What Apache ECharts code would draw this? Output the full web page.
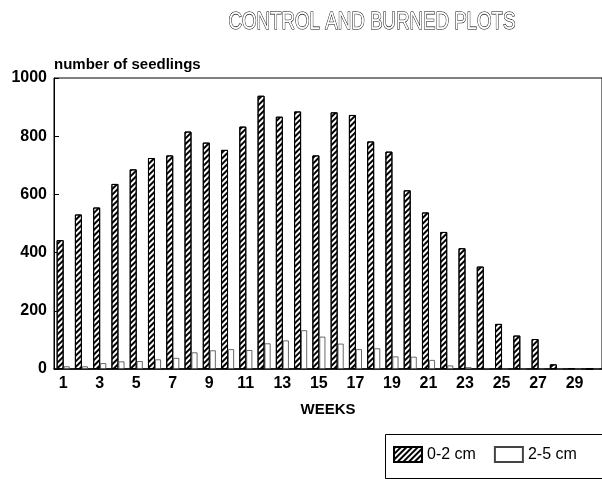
<!DOCTYPE html>
<html>
<head>
<meta charset="utf-8">
<script src="https://cdn.jsdelivr.net/npm/echarts@6/dist/echarts.min.js"></script>
<style>
  html, body { margin: 0; padding: 0; background: #fff; }
  #chart { width: 602px; height: 479px; }
</style>
</head>
<body>
<div id="chart"></div>
<script>
// weeks 1..30
const weeks = Array.from({ length: 30 }, (_, i) => String(i + 1))
const small = [443, 531, 555, 636, 686, 725, 734, 816, 778, 753, 833, 939, 867, 885, 734,
               882, 873, 782, 747, 614, 538, 471, 415, 352, 155, 115, 103, 16, 3, 0]
const large = [9, 9, 20, 26, 27, 33, 38, 57, 64, 68, 65, 88, 98, 133, 111,
               87, 68, 71, 43, 42, 31, 12, 6, 3, 0, 0, 0, 0, 0, 0]
const yTicks = [0, 200, 400, 600, 800, 1000]

const font = 'Liberation Sans'
const chart = echarts.init(document.getElementById('chart'))

const hatch = {
  symbol: 'rect',
  symbolSize: 1,
  color: '#000',
  dashArrayX: [1, 0],
  dashArrayY: [1.8, 1.6],
  rotation: -Math.PI / 4
}

chart.setOption({
  animation: false,
  graphic: [
    {
      // outlined title, squeezed a bit horizontally
      type: 'text',
      left: 228,
      top: 10,
      scaleX: 0.78,
      style: {
        text: 'CONTROL AND BURNED PLOTS',
        font: '24px "Liberation Sans"',
        fill: '#fff',
        stroke: '#000',
        lineWidth: 1.1
      }
    },
    {
      // legend frame
      type: 'rect',
      left: 383,
      top: 432,
      shape: { width: 240, height: 44 },
      style: { fill: null, stroke: '#000', lineWidth: 1 }
    }
  ],
  grid: {
    left: 54,
    top: 78,
    width: 550,
    height: 291,
    show: true,
    borderColor: '#000',
    borderWidth: 1
  },
  legend: {
    left: 393,
    top: 446,
    orient: 'horizontal',
    icon: 'rect',
    itemWidth: 28,
    itemHeight: 15,
    itemGap: 18,
    padding: 0,
    textStyle: { fontFamily: font, fontSize: 16, color: '#000' },
    data: ['0-2 cm', '2-5 cm']
  },
  xAxis: {
    type: 'category',
    data: weeks,
    name: 'WEEKS',
    nameLocation: 'middle',
    nameGap: 33,
    nameTextStyle: { fontFamily: font, fontSize: 15, fontWeight: 'bold', color: '#000' },
    axisLine: { lineStyle: { color: '#000', width: 1.5 } },
    axisTick: { alignWithLabel: true, interval: 1, length: 5, lineStyle: { color: '#000' } },
    axisLabel: { interval: 1, margin: 7, fontFamily: font, fontSize: 16, fontWeight: 'bold', color: '#000' }
  },
  yAxis: {
    type: 'value',
    min: 0,
    max: 1000,
    interval: 200,
    name: 'number of seedlings',
    nameGap: 6,
    nameTextStyle: { align: 'left', fontFamily: font, fontSize: 15, fontWeight: 'bold', color: '#000' },
    axisLine: { show: true, lineStyle: { color: '#000', width: 1 } },
    axisTick: { show: true, inside: true, length: 5, lineStyle: { color: '#000' } },
    splitLine: { show: false },
    axisLabel: {
      margin: 7,
      fontFamily: font,
      fontSize: 16,
      fontWeight: 'bold',
      color: '#000',
      formatter: v => (yTicks.includes(v) ? String(v) : '')
    }
  },
  series: [
    {
      name: '0-2 cm',
      type: 'bar',
      data: small,
      barWidth: 7,
      barGap: '0%',
      itemStyle: { color: '#fff', borderColor: '#000', borderWidth: 1, decal: hatch }
    },
    {
      name: '2-5 cm',
      type: 'bar',
      data: large,
      barWidth: 6,
      itemStyle: { color: '#fff', borderColor: '#444', borderWidth: 0.8 }
    }
  ]
})
</script>
</body>
</html>
